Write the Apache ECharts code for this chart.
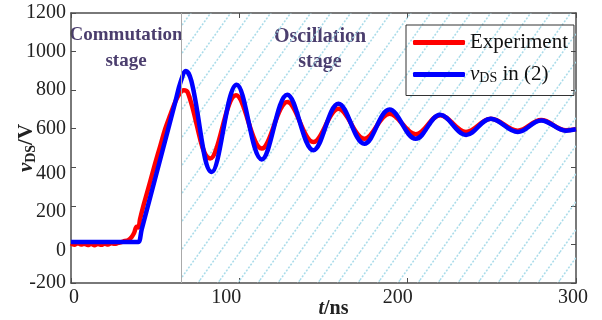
<!DOCTYPE html>
<html>
<head>
<meta charset="utf-8">
<script src="https://cdn.jsdelivr.net/npm/echarts@6/dist/echarts.min.js"></script>
<style>
  html, body { margin: 0; background: #fff; }
  #chart { width: 602px; height: 320px; }
</style>
</head>
<body>
<div id="chart"></div>
<script>
// measured drain-source voltage (ns, V)
const expT = [0, 2, 4, 6, 8, 10, 12, 14, 16, 18, 20, 22, 24, 26, 28, 30, 32, 34, 36, 37.5, 39, 40, 41, 43, 45, 47, 50, 53, 56, 59, 62, 64.5, 67, 69.5,
  82.6, 98, 113.3, 128.5, 144, 158.9, 174.3, 189.2, 204.8, 219.3, 234.7, 249.4, 265.4, 279.3, 294, 300]
const expV = [5, -2, 6, 0, 4, -3, 3, -4, 2, -2, 4, 0, 6, 3, 8, 12, 18, 22, 38, 60, 92, 88, 130, 200, 262, 325, 420, 510, 600, 672, 740, 782, 799, 785,
  445, 773, 497, 738, 531, 704, 548, 678, 571, 670, 583, 652, 590, 645, 592, 598]

// vDS from eq. (2)
const modelT = [0, 38, 40, 42, 52.9, 62, 65, 68.3, 71.5, 83.6, 98.4, 113.3, 128.5, 144, 158.9, 174.3, 189.2, 204.8, 219.3, 234.7, 249.4, 265.4, 279.3, 294, 300]
const modelV = [12, 12, 12, 78, 438, 740, 840, 899, 848, 375, 828, 441, 776, 488, 730, 522, 699, 548, 672, 568, 652, 583, 643, 590, 597]

const stageStart = 65.4
const xTicks = [0, 100, 200, 300]
const yTicks = [-200, 0, 200, 400, 600, 800, 1000, 1200]

const serif = '"Liberation Serif", "Times New Roman", serif'

// light blue dotted hatch for the oscillation stage
const hatch = document.createElement('canvas')
hatch.width = 20
hatch.height = 28
const hc = hatch.getContext('2d')
hc.strokeStyle = '#a8dbe9'
hc.lineWidth = 1.5
hc.setLineDash([2, 1.6])
for (const x0 of [-20, 0, 20]) {
  hc.beginPath()
  hc.moveTo(x0, 28)
  hc.lineTo(x0 + 20, 0)
  hc.stroke()
}

const pairs = (ts, vs) => ts.map((t, i) => [t, vs[i]])

// small nudges so tick labels sit where the original figure put them
const xShift = { 0: [0, 0, 0, 6], 100: [0, 26, 0, 0], 200: [0, 20, 0, 0], 300: [0, 6, 0, 0] }
const yShift = { 400: [12, 0, 0, 0], 200: [12, 0, 0, 0], 0: [12, 0, 0, 0] }

const labelStyle = { fontFamily: serif, fontSize: 20, color: '#222' }
const axisLine = { onZero: false, lineStyle: { color: '#4d4d4d', width: 1.5 } }
const tick = { inside: true, length: 5, lineStyle: { color: '#4d4d4d', width: 1 } }
const stageFont = size => `bold ${size}px ${serif}`

const chart = echarts.init(document.getElementById('chart'), null, { renderer: 'canvas' })
chart.setOption({
  animation: false,
  grid: { left: 71, right: 26, top: 13, bottom: 37, containLabel: false, outerBoundsMode: 'none' },
  legend: {
    orient: 'vertical',
    left: 406,
    top: 25,
    data: ['Experiment', 'vDS in (2)'],
    icon: 'roundRect',
    itemWidth: 52,
    itemHeight: 5,
    itemGap: 11,
    itemTextGap: 8,
    padding: [7, 6, 10, 7],
    borderColor: '#333',
    borderWidth: 1,
    backgroundColor: 'transparent',
    formatter: n => n === 'vDS in (2)' ? '{i|v}{s|DS} in (2)' : n,
    textStyle: {
      fontFamily: serif, fontSize: 21, color: '#111', lineHeight: 21,
      rich: {
        i: { fontFamily: serif, fontSize: 21, fontStyle: 'italic', color: '#111' },
        s: { fontFamily: serif, fontSize: 14, color: '#111', padding: [8, 0, 0, 0] },
      },
    },
  },
  xAxis: [{
    type: 'value', min: 0, max: 300, interval: 100,
    axisLine, axisTick: tick, splitLine: { show: false },
    axisLabel: {
      ...labelStyle, margin: 5,
      formatter: v => `{a${v}|${v}}`,
      rich: Object.fromEntries(xTicks.map(v => ['a' + v, { ...labelStyle, padding: xShift[v] }])),
    },
    name: '{i|t}{b|/ns}',
    nameLocation: 'middle',
    nameGap: 16,
    nameMoveOverlap: false,
    nameTextStyle: {
      padding: [0, 0, 0, 20],
      rich: {
        i: { fontFamily: serif, fontSize: 20, fontWeight: 'bold', fontStyle: 'italic', color: '#222' },
        b: { fontFamily: serif, fontSize: 20, fontWeight: 'bold', color: '#222' },
      },
    },
  }, {
    type: 'value', min: 0, max: 300, interval: 100, position: 'top',
    axisLine, axisTick: tick, axisLabel: { show: false }, splitLine: { show: false },
  }],
  yAxis: [{
    type: 'value', min: -200, max: 1200, interval: 200,
    axisLine, axisTick: tick, splitLine: { show: false },
    axisLabel: {
      ...labelStyle, margin: 5,
      formatter: v => `{a${v < 0 ? 'm' : v}|${v}}`,
      rich: Object.fromEntries(yTicks.map(v => ['a' + (v < 0 ? 'm' : v), { ...labelStyle, padding: yShift[v] || 0 }])),
    },
    name: '{i|v}{s|DS}{b|/V}',
    nameLocation: 'middle',
    nameGap: 33,
    nameRotate: 90,
    nameMoveOverlap: false,
    nameTextStyle: {
      rich: {
        i: { fontFamily: serif, fontSize: 21, fontWeight: 'bold', fontStyle: 'italic', color: '#222' },
        s: { fontFamily: serif, fontSize: 14, fontWeight: 'bold', color: '#222', padding: [9, 0, 0, 0] },
        b: { fontFamily: serif, fontSize: 21, fontWeight: 'bold', color: '#222' },
      },
    },
  }, {
    type: 'value', min: -200, max: 1200, interval: 200, position: 'right',
    axisLine, axisTick: tick, axisLabel: { show: false }, splitLine: { show: false },
  }],
  graphic: [
    { type: 'text', style: { text: 'Commutation', x: 126, y: 35, align: 'center', verticalAlign: 'middle', font: stageFont(19), fill: '#4b3e6e' } },
    { type: 'text', style: { text: 'stage', x: 126, y: 61, align: 'center', verticalAlign: 'middle', font: stageFont(19), fill: '#4b3e6e' } },
    { type: 'text', style: { text: 'Oscillation', x: 320, y: 37, align: 'center', verticalAlign: 'middle', font: stageFont(20), fill: '#4b3e6e' } },
    { type: 'text', style: { text: 'stage', x: 320, y: 62, align: 'center', verticalAlign: 'middle', font: stageFont(20), fill: '#4b3e6e' } },
  ],
  series: [{
    name: 'Experiment',
    type: 'line',
    data: pairs(expT, expV),
    smooth: 0.38,
    symbol: 'none',
    lineStyle: { color: '#ff0000', width: 4.5 },
    itemStyle: { color: '#ff0000' },
    z: 3,
    markArea: {
      silent: true,
      itemStyle: { color: { image: hatch, repeat: 'repeat' } },
      data: [[{ xAxis: stageStart, yAxis: -200 }, { xAxis: 300, yAxis: 1200 }]],
    },
    markLine: {
      silent: true,
      symbol: ['none', 'none'],
      label: { show: false },
      lineStyle: { color: '#aaa', width: 1, type: 'solid' },
      data: [{ xAxis: stageStart }],
    },
  }, {
    name: 'vDS in (2)',
    type: 'line',
    data: pairs(modelT, modelV),
    smooth: 0.38,
    symbol: 'none',
    lineStyle: { color: '#0000ff', width: 4.5 },
    itemStyle: { color: '#0000ff' },
    z: 4,
  }],
})
</script>
</body>
</html>
